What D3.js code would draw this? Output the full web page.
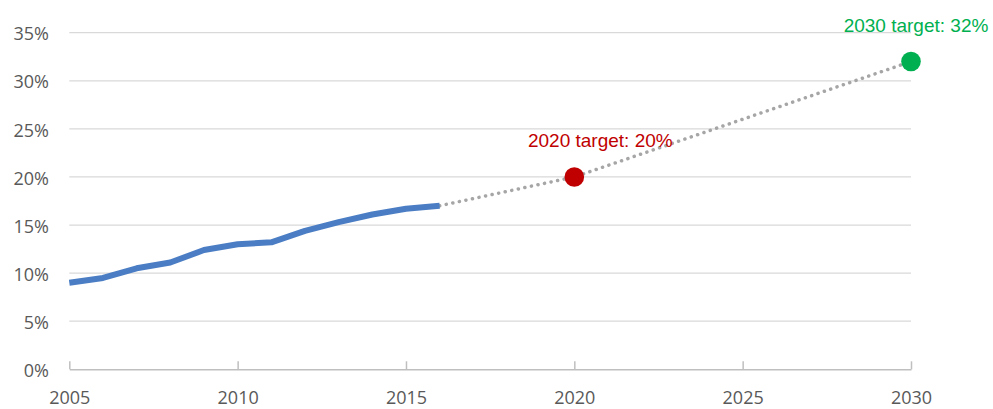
<!DOCTYPE html>
<html>
<head>
<meta charset="utf-8">
<script src="https://cdn.jsdelivr.net/npm/d3@7"></script>
<style>
  html, body { margin: 0; padding: 0; background: #fff; }
  svg { display: block; }
</style>
</head>
<body>
<svg id="chart" width="993" height="409"></svg>
<script>
// renewable share, actual
const years = [2005, 2006, 2007, 2008, 2009, 2010, 2011, 2012, 2013, 2014, 2015, 2016];
const share = [9.0, 9.5, 10.5, 11.1, 12.4, 13.0, 13.2, 14.4, 15.3, 16.1, 16.7, 17.0];

// path towards the targets
const pathYears = [2016, 2020, 2030];
const pathShare = [17.0, 20, 32];

const targets = [
    { year: 2020, value: 20, label: '2020 target: 20%', color: '#c00000' },
    { year: 2030, value: 32, label: '2030 target: 32%', color: '#00b050' }
];

const xTicks = [2005, 2010, 2015, 2020, 2025, 2030];
const yTicks = [0, 5, 10, 15, 20, 25, 30, 35];

const W = 993;

let svg = d3.select('#chart');

let x = d3.scaleLinear().domain([2005, 2030]).range([69.3, 911]);
let y = d3.scaleLinear().domain([0, 35]).range([369.3, 32.7]);

// gridlines
svg.append('g')
   .selectAll('line')
   .data(yTicks.filter(d => d > 0))
   .enter().append('line')
   .attr('x1', x(2005))
   .attr('x2', x(2030))
   .attr('y1', d => y(d))
   .attr('y2', d => y(d))
   .attr('stroke', '#d9d9d9')
   .attr('stroke-width', 1.2);

// y axis labels
let yAxis = svg.append('g')
   .attr('transform', 'translate(49,0)')
   .call(d3.axisLeft(y).tickValues(yTicks).tickSize(0).tickPadding(0).tickFormat(d => d + '%'));
yAxis.select('.domain').remove();
yAxis.selectAll('text')
   .attr('dy', '0.4em')
   .attr('fill', '#595959')
   .style('font-family', '"Open Sans", sans-serif')
   .style('font-size', '18px');

// x axis, ticks pointing up
let xAxis = svg.append('g')
   .attr('transform', 'translate(0,' + y(0) + ')')
   .call(d3.axisTop(x).tickValues(xTicks).tickSize(8).tickSizeOuter(0).tickFormat(d3.format('d')));
xAxis.select('.domain').attr('stroke', '#bfbfbf').attr('stroke-width', 1.5);
xAxis.selectAll('.tick line').attr('stroke', '#bfbfbf').attr('stroke-width', 1.5);
xAxis.selectAll('text')
   .attr('y', 35)
   .attr('dy', 0)
   .attr('fill', '#595959')
   .style('font-family', '"Open Sans", sans-serif')
   .style('font-size', '18px');

let line = d3.line()
   .x(d => x(d[0]))
   .y(d => y(d[1]));

// dotted path to targets
svg.append('path')
   .datum(d3.zip(pathYears, pathShare))
   .attr('d', line)
   .attr('fill', 'none')
   .attr('stroke', '#a6a6a6')
   .attr('stroke-width', 3.5)
   .attr('stroke-linecap', 'round')
   .attr('stroke-dasharray', '0.1 6.6');

// actual share
svg.append('path')
   .datum(d3.zip(years, share))
   .attr('d', line)
   .attr('fill', 'none')
   .attr('stroke', '#4a7dc4')
   .attr('stroke-width', 6)
   .attr('stroke-linejoin', 'round');

// target dots and labels
let labelW = 146;
let t = svg.append('g').selectAll('g').data(targets).enter().append('g');
t.append('circle')
   .attr('cx', d => x(d.year))
   .attr('cy', d => y(d.value))
   .attr('r', 9.8)
   .attr('fill', d => d.color);
t.append('text')
   .attr('x', d => Math.min(x(d.year) + 26, W - 4 - labelW / 2))
   .attr('y', d => y(d.value) - 30)
   .attr('text-anchor', 'middle')
   .attr('fill', d => d.color)
   .style('font-family', '"Liberation Sans", Arial, sans-serif')
   .style('font-size', '19px')
   .text(d => d.label);
</script>
</body>
</html>
